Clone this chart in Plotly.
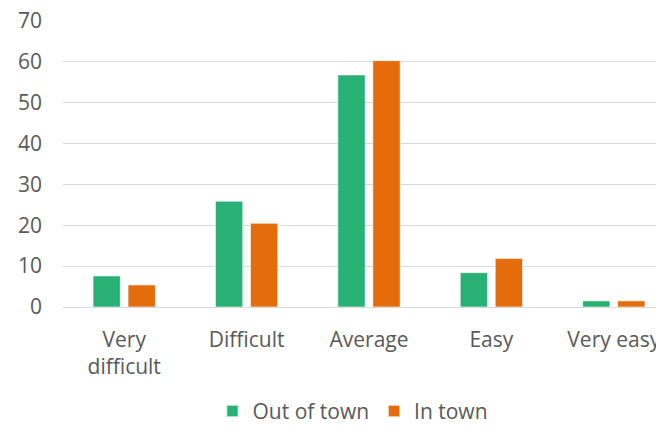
import plotly.graph_objects as go

# Survey answers: how difficult was it, by where respondents live (%)
categories = ["Very<br>difficult", "Difficult", "Average", "Easy", "Very easy"]
out_of_town = [7.6, 25.9, 56.8, 8.4, 1.5]
in_town = [5.4, 20.5, 60.3, 11.9, 1.5]
y_ticks = [0, 10, 20, 30, 40, 50, 60, 70]

GREEN = "#29B074"
ORANGE = "#E46C0A"
TEXT = "#595959"
GRID = "#D9D9D9"
FONT = "Open Sans"
SIZE = 21

fig = go.Figure()
fig.add_trace(go.Bar(
    name="Out of town", x=categories, y=out_of_town,
    marker=dict(color=GREEN, line=dict(color="rgba(255,255,255,0.6)", width=1)),
))
fig.add_trace(go.Bar(
    name="In town", x=categories, y=in_town,
    marker=dict(color=ORANGE, line=dict(color="rgba(255,255,255,0.6)", width=1)),
))

fig.update_layout(
    width=656, height=429,
    margin=dict(l=63, r=0, t=21, b=122, autoexpand=False),
    paper_bgcolor="white", plot_bgcolor="white",
    font=dict(family=FONT, size=SIZE, color=TEXT),
    barmode="group", bargap=0.428, bargroupgap=0.22,
    showlegend=True,
    legend=dict(
        orientation="h", x=0.489, xanchor="center", y=-0.365, yanchor="middle",
        font=dict(family=FONT, size=SIZE, color=TEXT),
        itemsizing="constant",
    ),
)
fig.update_xaxes(
    type="category", range=[-0.5, 4.345], automargin=False,
    showgrid=False, showline=False, zeroline=False,
    ticks="", ticklabelstandoff=18,
    tickfont=dict(family=FONT, size=SIZE, color=TEXT),
)
fig.update_yaxes(
    range=[0, 70], tickvals=y_ticks, automargin=False,
    showgrid=True, gridcolor=GRID, gridwidth=1.3,
    zeroline=True, zerolinecolor=GRID, zerolinewidth=1.3,
    showline=False, ticks="", ticklabelstandoff=20,
    tickfont=dict(family=FONT, size=SIZE, color=TEXT),
)

fig.write_html("out.html")
